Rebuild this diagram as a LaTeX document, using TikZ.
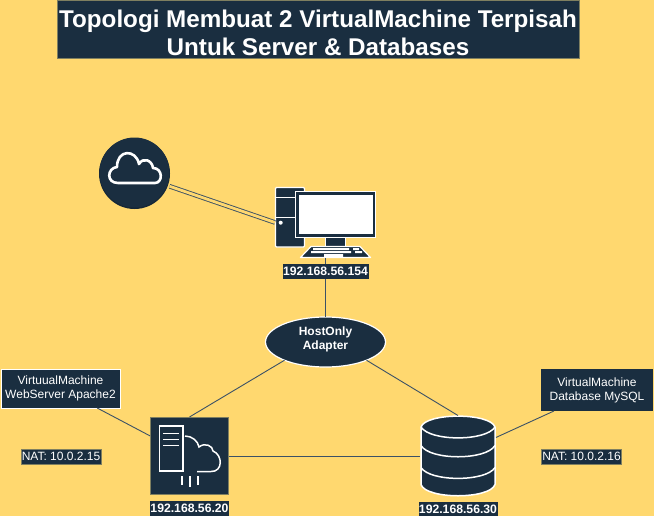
\documentclass[tikz,border=0pt]{standalone}
\usepackage{fontspec}
\setmainfont{Liberation Sans}
\setsansfont{Liberation Sans}
\usetikzlibrary{positioning,shapes.geometric}
\definecolor{bgyellow}{HTML}{FFD86F}
\definecolor{navy}{HTML}{1A2E40}
\definecolor{linkblue}{HTML}{3B5166}
\definecolor{edgegrey}{HTML}{7F7F60}
\providecommand{\cloudicon}{\tikz[x=1pt,y=-1pt]{%
  \path[use as bounding box] (99.5,137.5) rectangle (169.5,209.5);
  \fill[navy!85!black] (134.5,173.5) circle (35.5pt);
  \fill[navy] (134.5,172.5) circle (35pt);
  \draw[white,line width=2.6pt,line join=round] (118,183) -- (155,183)
    .. controls (163,183) and (163,168) .. (153,168)
    .. controls (152,160) and (143,157) .. (139,164)
    .. controls (136,149) and (117,149) .. (117,167)
    .. controls (107,168) and (106,183) .. (118,183) -- cycle;}}
\providecommand{\pcicon}{\tikz[x=1pt,y=-1pt]{%
  \path[use as bounding box] (275,187) rectangle (376,258);
  \draw[white,fill=navy,line width=1.2pt,rounded corners=1pt] (275.5,187.5) rectangle (304.5,247);
  \draw[white,line width=1.2pt] (275.5,197.5) -- (304.5,197.5) (275.5,217.5) -- (304.5,217.5);
  \fill[white] (280.7,222.7) circle (2pt);
  \draw[white,fill=navy,line width=1.2pt] (325.5,236) rectangle (345.5,246.5);
  \draw[white,fill=navy,line width=1.2pt] (295.5,191.5) rectangle (375.5,237.5);
  \fill[white] (298.5,195) rectangle (372.5,234);
  \draw[white,fill=navy,line width=1.2pt,line join=round] (311,246.5) -- (360,246.5) -- (370.5,257.5) -- (300.5,257.5) -- cycle;
  \fill[white] (313,248) rectangle (349,250) (353,248) rectangle (359,250)
    (311,251) rectangle (351,253) (355,251) rectangle (362,253) (324,254) rectangle (343,257);}}
\providecommand{\servericon}{\tikz[x=1pt,y=-1pt]{%
  \path[use as bounding box] (150,417) rectangle (229,495);
  \draw[edgegrey,fill=navy,line width=.8pt] (150.4,417.4) rectangle (228.6,494.6);
  \draw[white,line width=1.5pt] (159.5,426) rectangle (183,471);
  \draw[white,line width=1.5pt] (163,433.5) -- (179,433.5) (163,439.5) -- (179,439.5) (163,445.5) -- (179,445.5);
  \draw[white,line width=1.5pt] (185,436) .. controls (192,436) and (198,441) .. (199,447)
    .. controls (205,442) and (213,446) .. (213,451)
    .. controls (223,455) and (223,472) .. (211,471.5) -- (197,471.5);
  \draw[white,line width=1.5pt] (182,476) -- (182,485) (190,476) -- (190,487) (198,476) -- (198,485);}}
\providecommand{\dbicon}{\tikz[x=1pt,y=-1pt]{%
  \path[use as bounding box] (420,415) rectangle (496,496);
  \draw[white,fill=navy,line width=1.5pt] (421,426.5)
    .. controls (426,412) and (490,412) .. (495,426.5)
    -- (495,484) .. controls (490,499) and (426,499) .. (421,484) -- cycle;
  \draw[white,line width=1.5pt] (421,426.5) .. controls (430,441) and (486,441) .. (495,426.5);
  \draw[white,line width=1.5pt] (421,445) .. controls (430,460) and (486,460) .. (495,445);
  \draw[white,line width=1.5pt] (421,467) .. controls (430,481.500) and (486,481.500) .. (495,467);}}
\tikzset{
  vtitle/.style ={fill=navy, draw=edgegrey, line width=.6pt, text=white, align=center, inner sep=0,
                  font=\fontsize{24.2}{28}\selectfont\bfseries, minimum width=522pt, minimum height=58pt},
  vbox/.style   ={fill=navy, text=white, align=center, inner sep=0, outer sep=0,
                  font=\fontsize{12}{14}\selectfont},
  vvm/.style    ={vbox, draw=white, line width=.8pt},
  vnat/.style   ={vbox, draw=edgegrey, line width=.8pt, minimum width=80pt, minimum height=15pt},
  vip/.style    ={vbox, font=\fontsize{12.200}{14}\selectfont\bfseries, minimum height=15pt},
  vhost/.style  ={vbox, ellipse, draw=white, line width=1.2pt, minimum width=120pt, minimum height=50pt,
                  font=\fontsize{12}{14}\selectfont\bfseries},
  vicon/.style  ={inner sep=0, outer sep=0},
  vline/.style  ={line width=.9pt, draw=linkblue},
  vdouble/.style={line width=.9pt, draw=linkblue, double=bgyellow, double distance=2.8pt},
}
\begin{document}
\begin{tikzpicture}[x=1pt, y=-1pt]
  \useasboundingbox (0,0) rectangle (654,516);
  \fill[bgyellow] (0,0) rectangle (654,516);

  % ---- judul ----
  \node[vtitle] (title) at (318,29) {\rule{0pt}{26pt}Topologi Membuat 2 VirtualMachine Terpisah\\Untuk Server \& Databases};

  % ---- ikon ----
  \node[vicon] (cloud) at (134.5,173.5) {\cloudicon};
  \node[vicon] (pc) at (325.5,222.5) {\pcicon};
  \node[vicon] (server) at (189.5,456) {\servericon};
  \node[vicon] (db) at (458,456) {\dbicon};

  % ---- adapter + kotak VM ----
  \node[vhost] (host) at (325.5,342) {HostOnly\\Adapter\rule[-7.6pt]{0pt}{1pt}};
  \node[vvm, minimum width=119pt, minimum height=39pt] (vmweb) at (60.5,388.5) {VirtuualMachine\\WebServer Apache2};
  \node[vbox, minimum width=112pt, minimum height=42pt] (vmdb) at (597,390) {VirtualMachine\\Database MySQL};

  % ---- garis ----
  \draw[vdouble] (cloud.340) -- (pc.west);
  \draw[vline] (pc.south) -- (host.north);
  \draw[vline] (host.204) -- (server.north);
  \draw[vline] (host.336) -- (db.north);
  \draw[vline] (server.east) -- (db.west);
  \draw[vline] (vmweb.332) -- (server.153);
  \draw[vline] (db.26) -- (vmdb.206);

  % ---- alamat ----
  \node[vip, minimum width=86pt, below=6pt of pc] (ippc) {192.168.56.154};
  \node[vip, minimum width=79pt, below=6pt of server] (ipserver) {192.168.56.20};
  \node[vip, minimum width=79pt, below=5pt of db] (ipdb) {192.168.56.30};
  \node[vnat] (natweb) at (61,456.5) {NAT: 10.0.2.15};
  \node[vnat] (natdb) at (581.5,456.5) {NAT: 10.0.2.16};

\end{tikzpicture}
\end{document}
